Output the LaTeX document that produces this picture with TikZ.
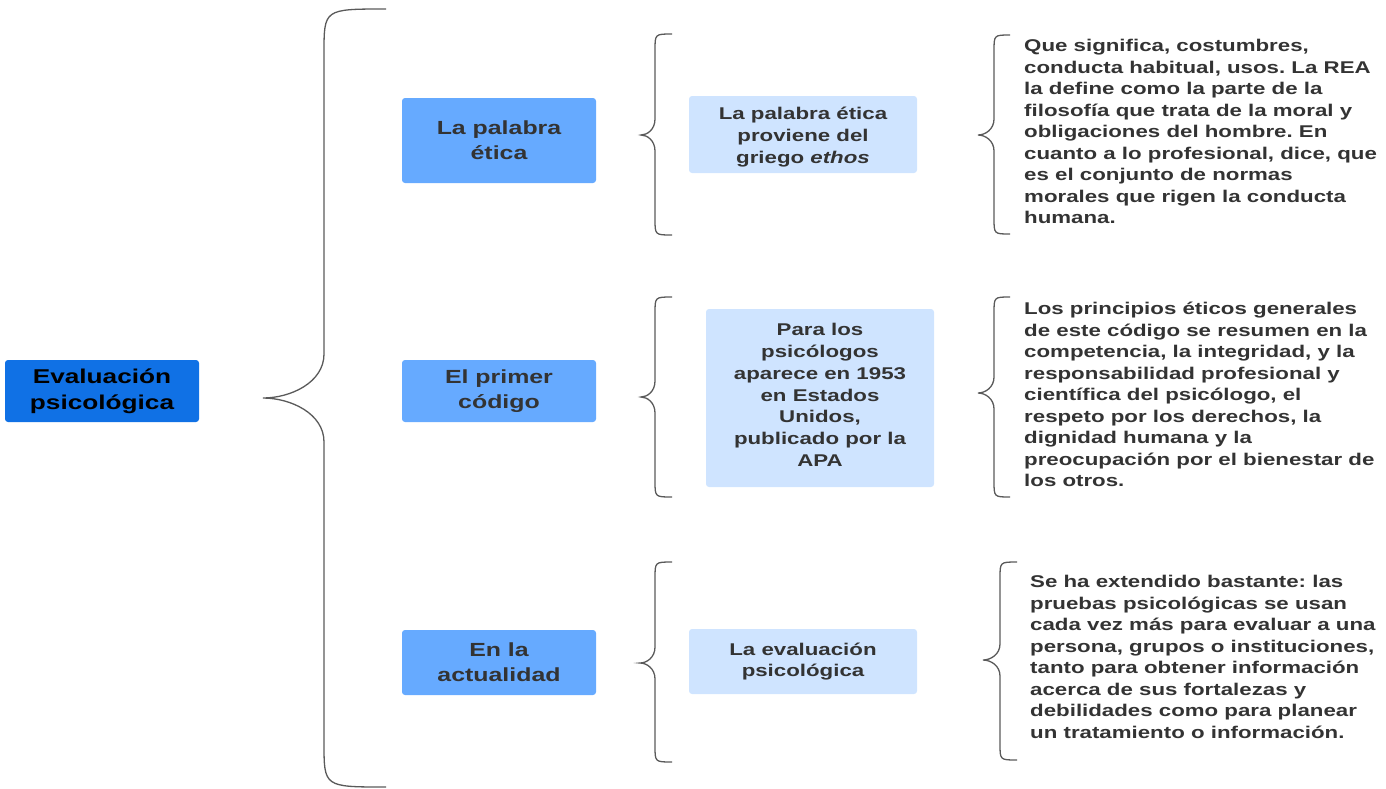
\documentclass[tikz,border=0pt]{standalone}
\usepackage{fontspec}
\setmainfont[FakeStretch=1.31]{Liberation Sans}
\frenchspacing
\definecolor{rootblue}{HTML}{1071E5}
\definecolor{midblue}{HTML}{66AAFF}
\definecolor{paleblue}{HTML}{CFE4FF}
\definecolor{txtgrey}{HTML}{333333}
\definecolor{bracegrey}{HTML}{5A5A5A}
\newcommand{\bracepath}[8]{% xend xvert xtip ytop ytip ybot rend rtip
  \draw[bracestyle] (#1,#4) .. controls (#2,#4) .. (#2,#4+#7)
    -- (#2,#5-#8) .. controls (#2,#5-0.35*#8) and (#3+0.45*#2-0.45*#3,#5) .. (#3,#5)
    .. controls (#3+0.45*#2-0.45*#3,#5) and (#2,#5+0.35*#8) .. (#2,#5+#8)
    -- (#2,#6-#7) .. controls (#2,#6) .. (#1,#6);}
\tikzset{
  bracestyle/.style={draw=bracegrey, line width=1.3pt},
  rootbox/.style={fill=rootblue, rounded corners=3pt, text=black, align=center,
    font=\bfseries\fontsize{20}{26}\selectfont, inner sep=0pt},
  lvlone/.style={fill=midblue, rounded corners=3pt, text=txtgrey, align=center,
    font=\bfseries\fontsize{19}{25}\selectfont, inner sep=0pt, minimum width=194pt},
  lvltwo/.style={fill=paleblue, rounded corners=3pt, text=txtgrey, align=center,
    font=\bfseries\fontsize{17}{21.8}\selectfont, inner sep=0pt, minimum width=228pt},
  desc/.style={text=txtgrey, align=left, anchor=north west,
    font=\bfseries\fontsize{17}{21.5}\selectfont, inner sep=0pt},
}
\begin{document}
\begin{tikzpicture}[x=1pt,y=-1pt]
\useasboundingbox (0,0) rectangle (1386,788);
% nodes
\node[rootbox, minimum width=194pt, minimum height=62pt] (root) at (102,391) {Evaluación\\psicológica};
\node[lvlone, minimum height=85pt] (a1) at (499,140.5) {La palabra\\ética};
\node[lvlone, minimum height=62pt] (b1) at (499,391) {El primer\\código};
\node[lvlone, minimum height=65pt] (c1) at (499,662.5) {En la\\actualidad};
\node[lvltwo, minimum height=77pt] (a2) at (803,134.5) {};
\node[lvltwo, fill=none, font=\bfseries\fontsize{17}{22}\selectfont] (a2t) at (803,137) {La palabra ética\\proviene del\\griego \textit{ethos}};
\node[lvltwo, minimum height=178pt] (b2) at (820,398) {};
\node[lvltwo, fill=none] (b2t) at (820,395) {Para los\\psicólogos\\aparece en 1953\\en Estados\\Unidos,\\publicado por la\\APA};
\node[lvltwo, minimum height=65pt] (c2) at (803,661.5) {La evaluación\\psicológica};
\node[desc] (a3) at (1024,39) {Que significa, costumbres,\\conducta habitual, usos. La REA\\la define como la parte de la\\filosofía que trata de la moral y\\obligaciones del hombre. En\\cuanto a lo profesional, dice, que\\es el conjunto de normas\\morales que rigen la conducta\\humana.};
\node[desc] (b3) at (1024,302) {Los principios éticos generales\\de este código se resumen en la\\competencia, la integridad, y la\\responsabilidad profesional y\\científica del psicólogo, el\\respeto por los derechos, la\\dignidad humana y la\\preocupación por el bienestar de\\los otros.};
\node[desc] (c3) at (1030,575) {Se ha extendido bastante: las\\pruebas psicológicas se usan\\cada vez más para evaluar a una\\persona, grupos o instituciones,\\tanto para obtener información\\acerca de sus fortalezas y\\debilidades como para planear\\un tratamiento o información.};
% braces
\bracepath{386}{324}{263}{9}{398}{787}{44}{44}
\bracepath{672}{655}{641}{34}{135}{235}{16}{16}
\bracepath{672}{655}{641}{297}{397}{497}{16}{16}
\bracepath{672}{655}{640}{562}{663}{762}{16}{16}
\bracepath{1010}{994}{978}{35}{135}{234}{16}{16}
\bracepath{1010}{994}{978}{297}{393}{497}{16}{16}
\bracepath{1017}{1000}{983}{562}{660}{760}{16}{16}
\end{tikzpicture}
\end{document}
